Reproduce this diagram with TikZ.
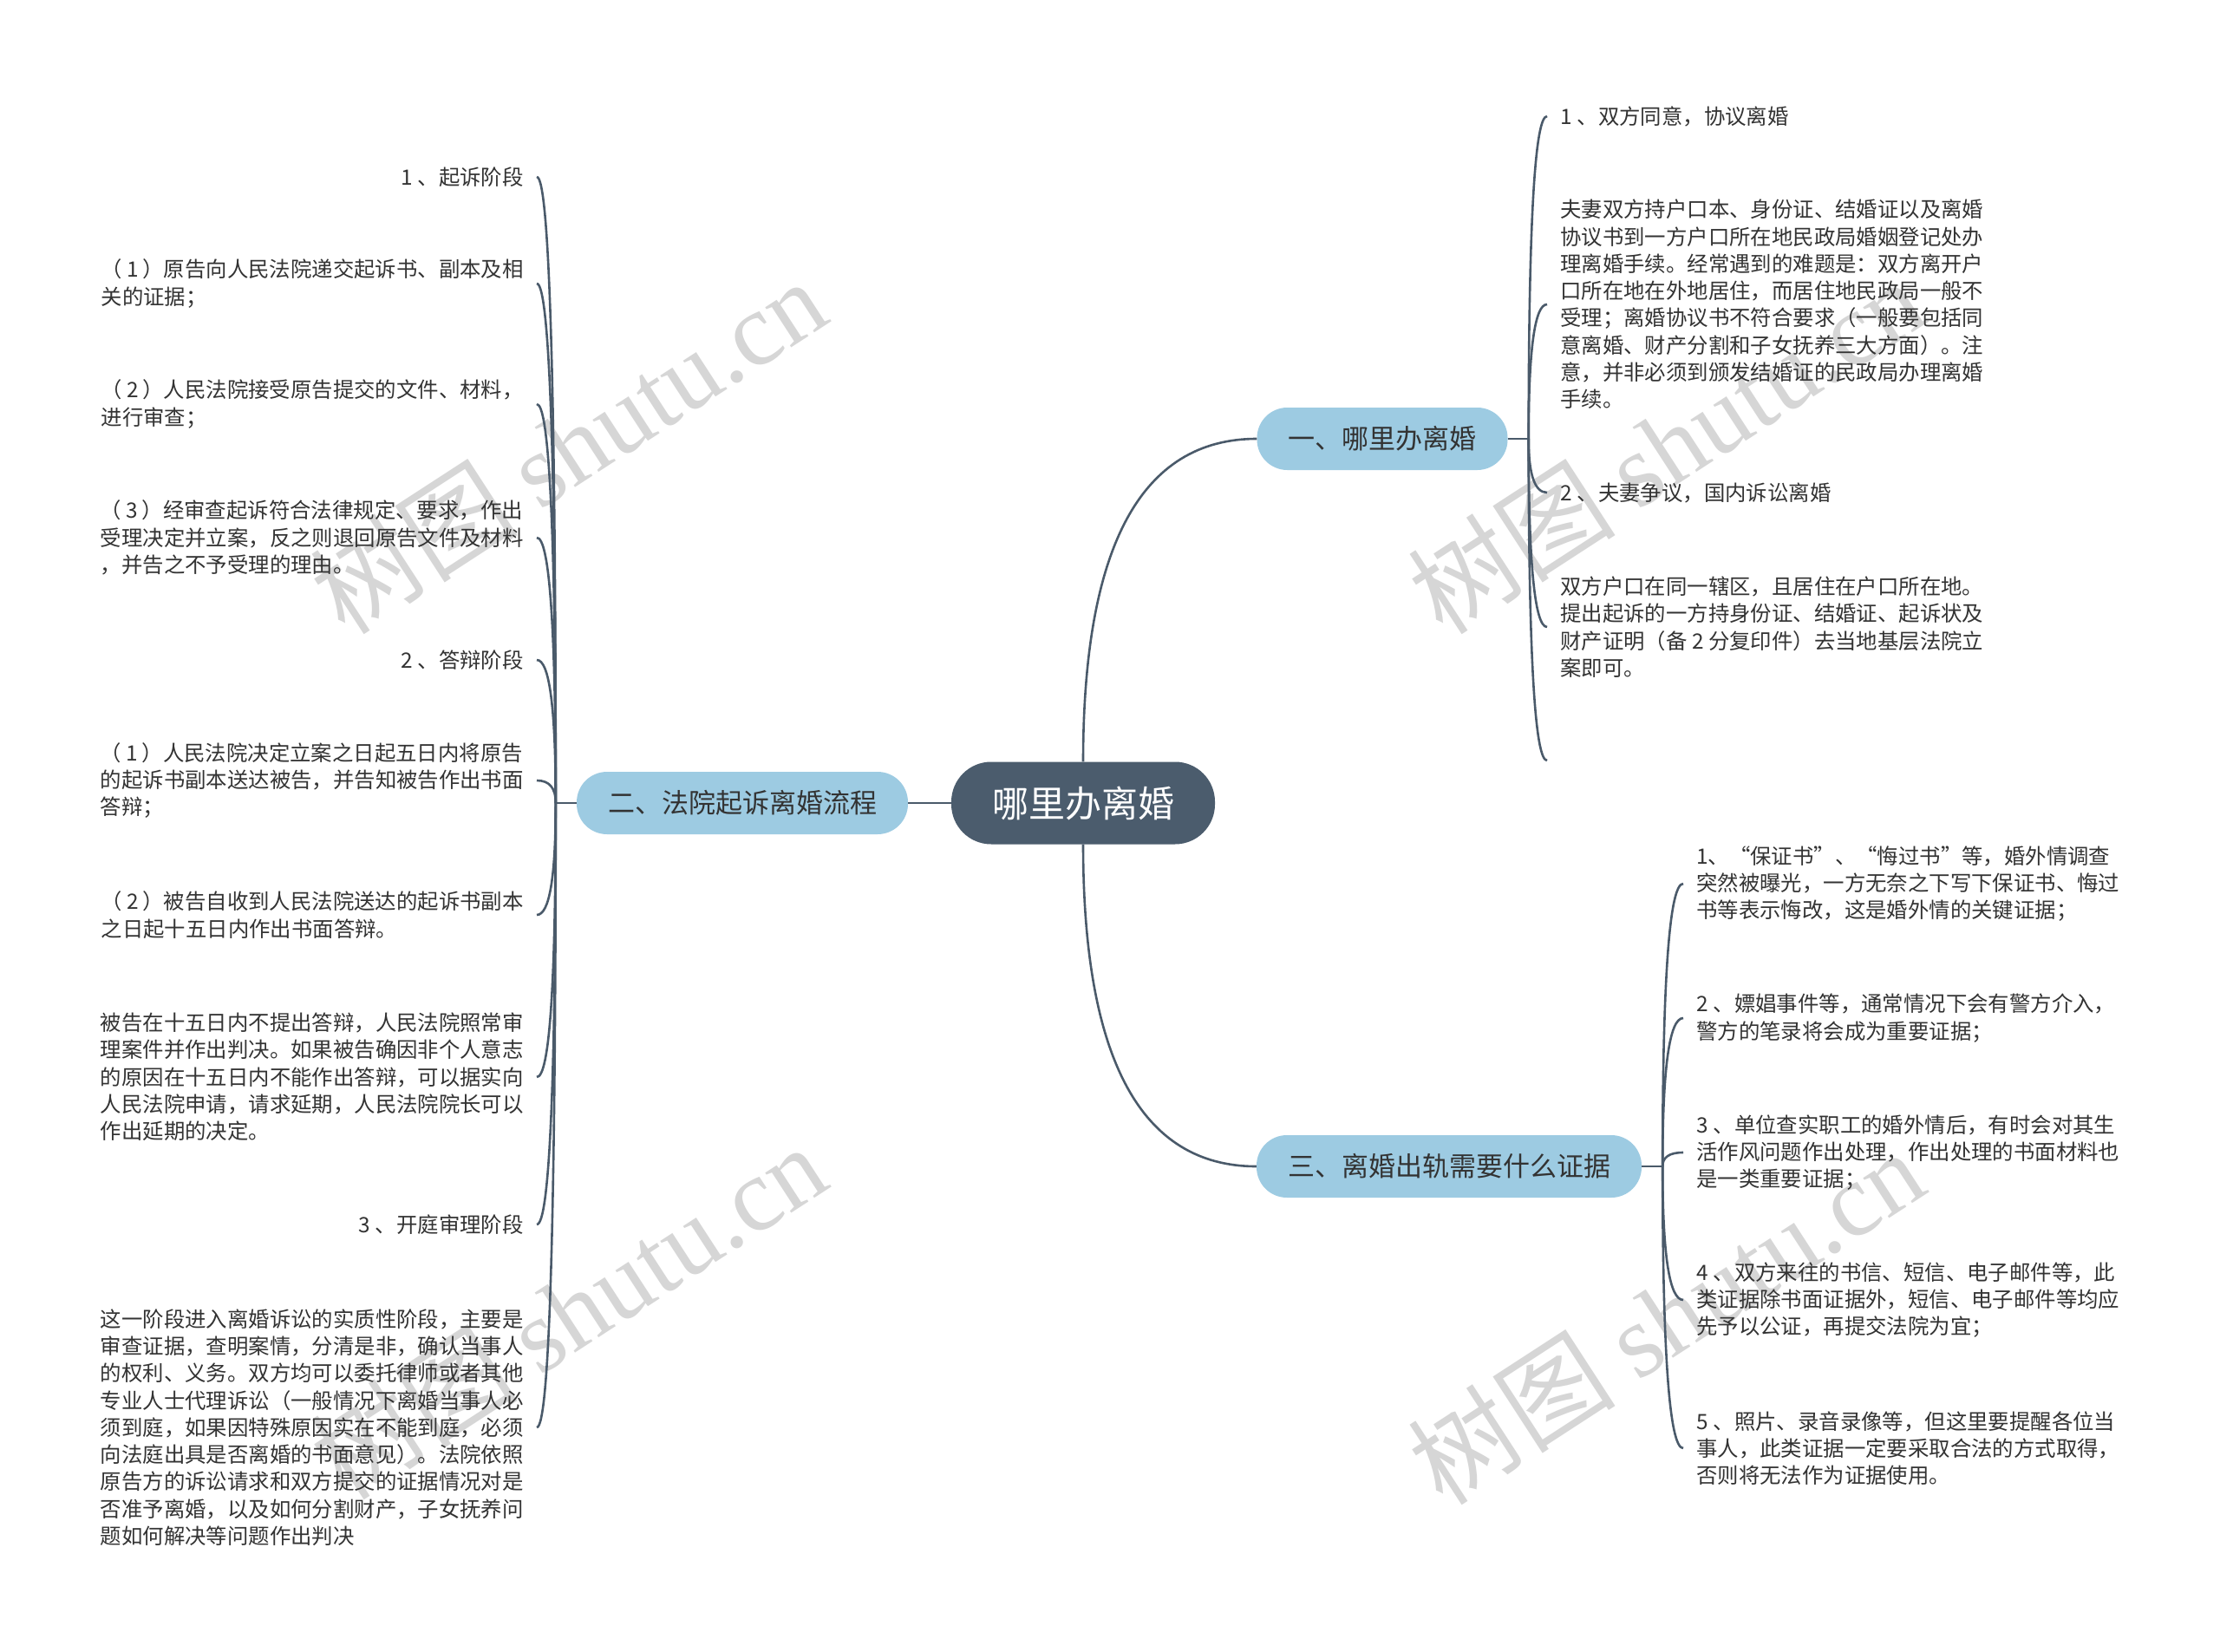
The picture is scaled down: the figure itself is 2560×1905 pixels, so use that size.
\documentclass[tikz,border=0pt]{standalone}
\usepackage{fontspec}
\setmainfont{Noto Sans CJK SC}
\newfontfamily\wmserif{Liberation Serif}
\usetikzlibrary{calc}
\definecolor{linec}{HTML}{4A5A6A}
\definecolor{rootc}{HTML}{4B5C6D}
\definecolor{mainc}{HTML}{9DCBE2}
\definecolor{txtc}{HTML}{333333}
\definecolor{wmc}{HTML}{D6D6D6}
\newcommand\oq{\makebox[1em][r]{“}}
\newcommand\cq{\makebox[1em][l]{”}}
\newcommand\nd[1]{#1\hspace{6pt}、}
\newcommand\pn[1]{（\hspace{5pt}#1\hspace{5pt}）}
\newcommand\kidlink[2]{%
  \draw[conn] (#1) .. controls ($(#1)!0.6667!(#1 |- #2)$) and ($(#2)!0.6667!(#1 |- #2)$) .. (#2);}
\tikzset{
  conn/.style={draw=linec, line width=2.6pt},
  rootnode/.style={fill=rootc, text=white, rounded corners=46pt, minimum width=304pt,
    minimum height=95pt, inner sep=0pt, font=\fontsize{42}{50}\selectfont},
  mainnode/.style={fill=mainc, text=txtc, rounded corners=35pt, minimum height=72pt,
    inner xsep=36pt, inner ysep=0pt, font=\fontsize{31}{37}\selectfont},
  leaf/.style={text=txtc, align=left, inner xsep=15pt, inner ysep=0pt,
    font=\fontsize{24.4}{31.3}\selectfont},
  wm/.style={text=wmc, rotate=33, inner sep=0pt, font=\fontsize{120}{130}\selectfont}
}
\begin{document}
\begin{tikzpicture}[x=1pt,y=-1pt]
\useasboundingbox (0,0) rectangle (2560,1905);
\fill[white] (0,0) rectangle (2560,1905);

% watermarks
\node[wm] (w1) at (655,514) {树图 {\wmserif shutu.cn}};
\node[wm] (w2) at (655,1512) {树图 {\wmserif shutu.cn}};
\node[wm] (w3) at (1921,514) {树图 {\wmserif shutu.cn}};
\node[wm] (w4) at (1921,1518) {树图 {\wmserif shutu.cn}};

% root and main branches
\node[rootnode] (root) at (1249,926) {哪里办离婚};
\node[mainnode] (b1) at (1594,506) {一、哪里办离婚};
\node[mainnode] (b2) at (856,926) {二、法院起诉离婚流程};
\node[mainnode] (b3) at (1671,1345) {三、离婚出轨需要什么证据};

% left leaves (branch 2)
\node[leaf, anchor=east] (l1) at (619,204) {\nd{1}起诉阶段};
\node[leaf, anchor=east] (l2) at (619,327) {\pn{1}原告向人民法院递交起诉书、副本及相\\关的证据；};
\node[leaf, anchor=east] (l3) at (619,466) {\pn{2}人民法院接受原告提交的文件、材料，\\进行审查；};
\node[leaf, anchor=east] (l4) at (619,620) {\pn{3}经审查起诉符合法律规定、要求，作出\\受理决定并立案，反之则退回原告文件及材料\\，并告之不予受理的理由。};
\node[leaf, anchor=east] (l5) at (619,761) {\nd{2}答辩阶段};
\node[leaf, anchor=east] (l6) at (619,900) {\pn{1}人民法院决定立案之日起五日内将原告\\的起诉书副本送达被告，并告知被告作出书面\\答辩；};
\node[leaf, anchor=east] (l7) at (619,1055) {\pn{2}被告自收到人民法院送达的起诉书副本\\之日起十五日内作出书面答辩。};
\node[leaf, anchor=east] (l8) at (619,1242) {被告在十五日内不提出答辩，人民法院照常审\\理案件并作出判决。如果被告确因非个人意志\\的原因在十五日内不能作出答辩，可以据实向\\人民法院申请，请求延期，人民法院院长可以\\作出延期的决定。};
\node[leaf, anchor=east] (l9) at (619,1412) {\nd{3}开庭审理阶段};
\node[leaf, anchor=east] (l10) at (619,1646) {这一阶段进入离婚诉讼的实质性阶段，主要是\\审查证据，查明案情，分清是非，确认当事人\\的权利、义务。双方均可以委托律师或者其他\\专业人士代理诉讼（一般情况下离婚当事人必\\须到庭，如果因特殊原因实在不能到庭，必须\\向法庭出具是否离婚的书面意见）。法院依照\\原告方的诉讼请求和双方提交的证据情况对是\\否准予离婚，以及如何分割财产，子女抚养问\\题如何解决等问题作出判决};

% right leaves (branch 1)
\node[leaf, anchor=west] (r1) at (1784,134) {\nd{1}双方同意，协议离婚};
\node[leaf, anchor=west] (r2) at (1784,351) {夫妻双方持户口本、身份证、结婚证以及离婚\\协议书到一方户口所在地民政局婚姻登记处办\\理离婚手续。经常遇到的难题是：双方离开户\\口所在地在外地居住，而居住地民政局一般不\\受理；离婚协议书不符合要求（一般要包括同\\意离婚、财产分割和子女抚养三大方面）。注\\意，并非必须到颁发结婚证的民政局办理离婚\\手续。};
\node[leaf, anchor=west] (r3) at (1784,568) {\nd{2}夫妻争议，国内诉讼离婚};
\node[leaf, anchor=west] (r4) at (1784,723) {双方户口在同一辖区，且居住在户口所在地。\\提出起诉的一方持身份证、结婚证、起诉状及\\财产证明（备 2 分复印件）去当地基层法院立\\案即可。};
\coordinate (r5) at (1784,877);

% right leaves (branch 3)
\node[leaf, anchor=west] (t1) at (1941,1019) {1、\oq 保证书\cq 、\oq 悔过书\cq 等，婚外情调查\\突然被曝光，一方无奈之下写下保证书、悔过\\书等表示悔改，这是婚外情的关键证据；};
\node[leaf, anchor=west] (t2) at (1941,1174) {\nd{2}嫖娼事件等，通常情况下会有警方介入，\\警方的笔录将会成为重要证据；};
\node[leaf, anchor=west] (t3) at (1941,1329) {\nd{3}单位查实职工的婚外情后，有时会对其生\\活作风问题作出处理，作出处理的书面材料也\\是一类重要证据；};
\node[leaf, anchor=west] (t4) at (1941,1499) {\nd{4}双方来往的书信、短信、电子邮件等，此\\类证据除书面证据外，短信、电子邮件等均应\\先予以公证，再提交法院为宜；};
\node[leaf, anchor=west] (t5) at (1941,1670) {\nd{5}照片、录音录像等，但这里要提醒各位当\\事人，此类证据一定要采取合法的方式取得，\\否则将无法作为证据使用。};

% root connectors
\coordinate (k1) at (root.north |- b1.west);
\coordinate (k3) at (root.south |- b3.west);
\draw[conn] (root.north) .. controls ($(root.north)!0.6667!(k1)$) and ($(b1.west)!0.6667!(k1)$) .. (b1.west);
\draw[conn] (root.south) .. controls ($(root.south)!0.6667!(k3)$) and ($(b3.west)!0.6667!(k3)$) .. (b3.west);
\draw[conn] (root.west) -- (b2.east);

% spines
\coordinate (s1) at ($(b1.east)+(24,0)$);
\coordinate (s2) at ($(b2.west)+(-24,0)$);
\coordinate (s3) at ($(b3.east)+(24,0)$);
\draw[conn] (b1.east) -- (s1);
\draw[conn] (b2.west) -- (s2);
\draw[conn] (b3.east) -- (s3);

\foreach \n in {l1,l2,l3,l4,l5,l6,l7,l8,l9,l10} {\kidlink{s2}{\n.east}}
\foreach \n in {r1,r2,r3,r4} {\kidlink{s1}{\n.west}}
\kidlink{s1}{r5}
\foreach \n in {t1,t2,t3,t4,t5} {\kidlink{s3}{\n.west}}
\end{tikzpicture}
\end{document}
